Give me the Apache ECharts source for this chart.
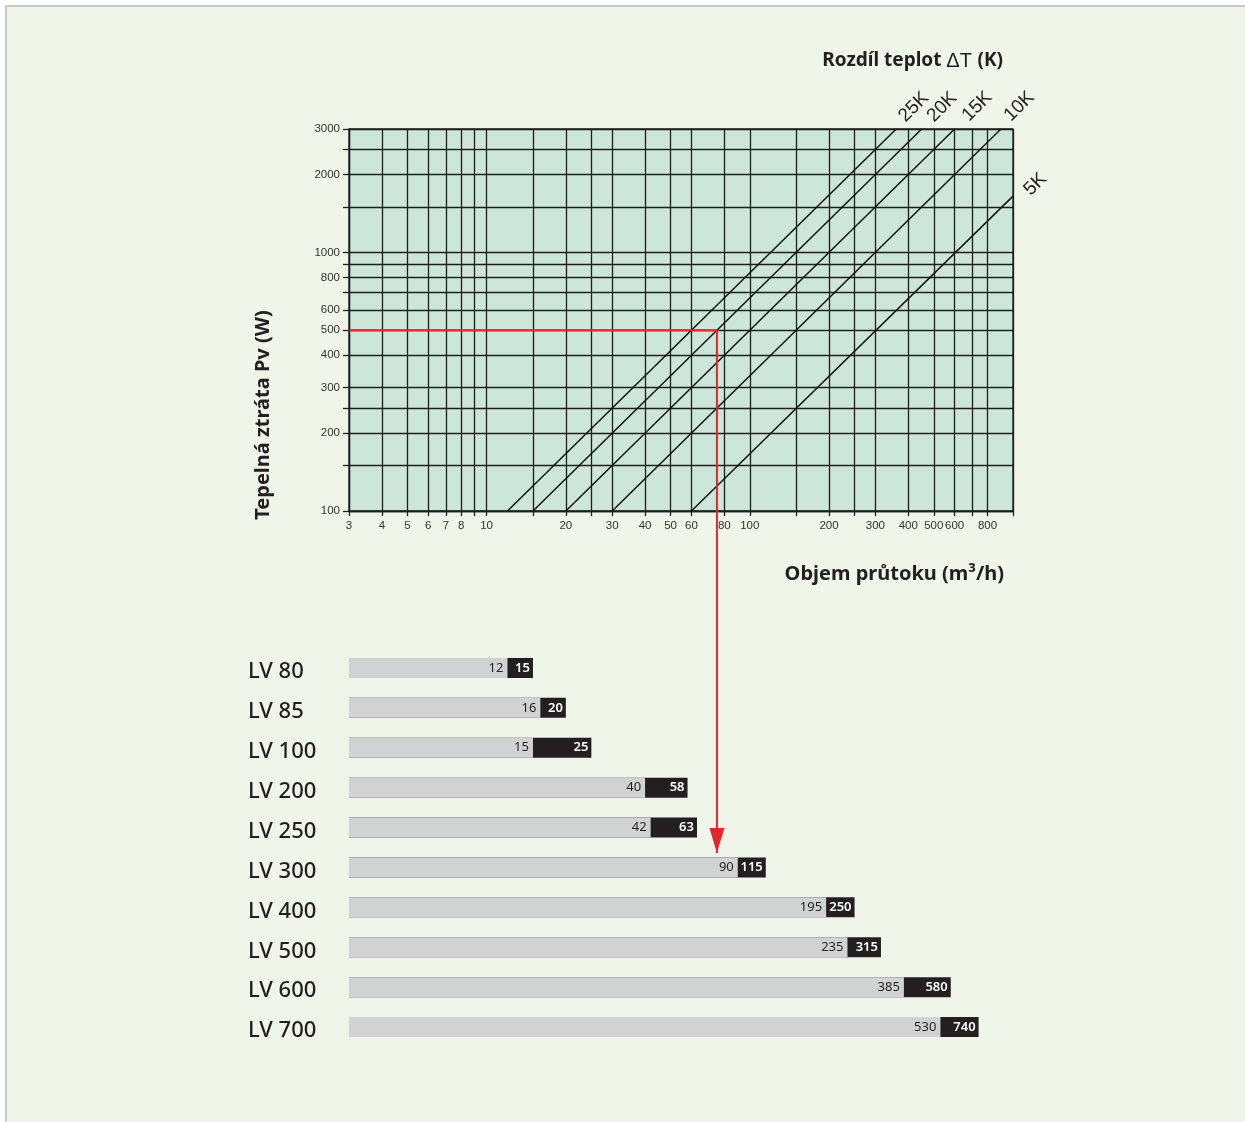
<!DOCTYPE html>
<html>
<head>
<meta charset="utf-8">
<script src="https://cdn.jsdelivr.net/npm/echarts@6/dist/echarts.min.js"></script>
<style>
html,body{margin:0;padding:0;background:#ffffff;}
#frame{position:absolute;left:5px;top:5px;width:1240px;height:1117px;border-top:2px solid #c9c9c9;border-left:2px solid #c9c9c9;background:#eff5e8;}
#chart{position:absolute;left:0;top:0;width:1245px;height:1122px;}
</style>
</head>
<body>
<div id="frame"></div>
<div id="chart"></div>
<script>
// ---- Top chart: heat loss vs. volume flow (log-log) ----
const flowGridValues = [3,4,5,6,7,8,9,10,15,20,25,30,40,50,60,80,100,150,200,250,300,400,500,600,700,800,1000];
const flowLabelValues = [3,4,5,6,7,8,10,20,30,40,50,60,80,100,200,300,400,500,600,800];
const powerGridValues = [100,150,200,250,300,400,500,600,700,800,900,1000,1500,2000,2500,3000];
const powerLabelValues = [100,200,300,400,500,600,800,1000,2000,3000];

// Temperature difference lines: [flow m3/h, heat loss W] end points
const dtNames = ['25K','20K','15K','10K','5K'];
const dt25 = [[12,100],[360,3000]];
const dt20 = [[15,100],[450,3000]];
const dt15 = [[20,100],[600,3000]];
const dt10 = [[30,100],[900,3000]];
const dt5  = [[60,100],[1000,1650]];

// Red example reading: 500 W -> 75 m3/h, continuing down to the LV 300 bar
const exampleLine = [[3,500],[75,500]];
const exampleArrowEnd = [75,4.76];

// ---- Bottom chart: device flow ranges (m3/h) ----
const devices = ['LV 80','LV 85','LV 100','LV 200','LV 250','LV 300','LV 400','LV 500','LV 600','LV 700'];
const flowMin = [12,16,15,40,42,90,195,235,385,530];
const flowMax = [15,20,25,58,63,115,250,315,580,740];

const dark = '#231f20';
const tickFont = 'Liberation Sans, Arial, sans-serif';
const mainFont = 'Noto Sans, Open Sans, sans-serif';

const dtSeries = [dt25, dt20, dt15, dt10, dt5];
const dtLabelOffsets = [[11,-3],[13,-1],[15,0],[12,-3],[12.5,7.5]];

function makeDtSeries(points, name, i) {
  const data = points.map((p, j) => {
    if (j === points.length - 1) {
      return {
        value: p,
        label: {
          show: true,
          formatter: name,
          position: 'right',
          distance: 0,
          rotate: 45,
          offset: dtLabelOffsets[i],
          fontFamily: tickFont,
          fontSize: 19,
          color: dark
        }
      };
    }
    return { value: p };
  });
  return {
    type: 'line',
    xAxisIndex: 0,
    yAxisIndex: 0,
    data: data,
    showSymbol: true,
    symbol: 'circle',
    symbolSize: 0,
    lineStyle: { color: '#111', width: 1.5 },
    itemStyle: { color: '#111' },
    silent: true,
    animation: false,
    z: 3
  };
}

const plain = v => String(v);

const chart = echarts.init(document.getElementById('chart'), null, { renderer: 'canvas' });

const option = {
  backgroundColor: 'transparent',
  animation: false,
  grid: [
    { left: 349, top: 129, width: 664, height: 382, show: true, backgroundColor: '#cce6d9', borderColor: '#1e1e1e', borderWidth: 1.3 },
    { left: 349, top: 648, width: 664, height: 399 }
  ],
  xAxis: [
    {
      type: 'log', logBase: 10, min: 3, max: 1000, gridIndex: 0,
      axisLine: { show: true, lineStyle: { color: '#1e1e1e', width: 1.3 } },
      axisTick: { show: true, customValues: flowGridValues, length: 5, lineStyle: { color: '#1e1e1e', width: 1.3 } },
      axisLabel: { customValues: flowLabelValues, formatter: plain, margin: 9, fontFamily: tickFont, fontSize: 11.5, color: '#333' },
      splitLine: { show: true, lineStyle: { color: '#1e1e1e', width: 1.3 } },
      minorSplitLine: { show: false }
    },
    {
      type: 'log', logBase: 10, min: 3, max: 1000, startValue: 3, gridIndex: 1, show: false,
      splitLine: { show: false }
    }
  ],
  yAxis: [
    {
      type: 'log', logBase: 10, min: 100, max: 3000, gridIndex: 0,
      axisLine: { show: true, lineStyle: { color: '#1e1e1e', width: 1.3 } },
      axisTick: { show: true, customValues: powerGridValues, length: 6, lineStyle: { color: '#1e1e1e', width: 1.3 } },
      axisLabel: { customValues: powerLabelValues, formatter: plain, margin: 9, fontFamily: tickFont, fontSize: 11.5, color: '#333' },
      splitLine: { show: true, lineStyle: { color: '#1e1e1e', width: 1.3 } }
    },
    {
      type: 'category', gridIndex: 1, data: devices, inverse: true,
      axisLine: { show: false }, axisTick: { show: false }, splitLine: { show: false },
      axisLabel: {
        align: 'left', margin: 101,
        formatter: v => '{a|' + v + '}',
        rich: { a: { fontFamily: mainFont, fontSize: 22, fontWeight: 500, color: dark, padding: [8, 0, 0, 0] } }
      }
    }
  ],
  series: [
    ...dtSeries.map((pts, i) => makeDtSeries(pts, dtNames[i], i)),
    {
      type: 'line',
      xAxisIndex: 0, yAxisIndex: 0,
      clip: false,
      data: [
        { value: exampleLine[0] },
        { value: exampleLine[1] },
        { value: exampleArrowEnd, symbol: 'triangle', symbolSize: [15, 25], symbolRotate: 180, symbolOffset: [0, -12.5] }
      ],
      symbol: 'none',
      showSymbol: true,
      lineStyle: { color: '#e4252a', width: 2 },
      itemStyle: { color: '#e4252a' },
      silent: true,
      z: 10
    },
    {
      type: 'bar',
      xAxisIndex: 1, yAxisIndex: 1,
      data: flowMax,
      barWidth: 20,
      itemStyle: { color: dark },
      label: { show: true, position: 'insideRight', distance: 3, color: '#ffffff', fontFamily: mainFont, fontSize: 13, fontWeight: 600 },
      silent: true,
      z: 2
    },
    {
      type: 'bar',
      xAxisIndex: 1, yAxisIndex: 1,
      data: flowMin,
      barWidth: 20,
      barGap: '-100%',
      itemStyle: { color: '#d1d2d4' },
      label: { show: true, position: 'insideRight', distance: 4, color: dark, fontFamily: mainFont, fontSize: 13 },
      silent: true,
      z: 3
    }
  ],
  graphic: [
    {
      type: 'text', x: 1003, y: 61,
      style: {
        text: '{b|Rozdíl teplot }{n|ΔT }{b|(K)}',
        align: 'right', verticalAlign: 'middle',
        rich: {
          b: { fontFamily: mainFont, fontSize: 19, fontWeight: 'bold', fill: dark },
          n: { fontFamily: tickFont, fontSize: 20, fontWeight: 'normal', fill: dark }
        }
      }
    },
    {
      type: 'text', x: 1004, y: 574,
      style: {
        text: '{b|Objem průtoku (m³/h)}',
        align: 'right', verticalAlign: 'middle',
        rich: { b: { fontFamily: mainFont, fontSize: 20, fontWeight: 'bold', fill: dark } }
      }
    },
    {
      type: 'text', x: 263, y: 415, rotation: Math.PI / 2,
      style: {
        text: 'Tepelná ztráta Pv (W)',
        align: 'center', verticalAlign: 'middle',
        fontFamily: mainFont, fontSize: 20, fontWeight: 'bold', fill: dark
      }
    }
  ]
};

chart.setOption(option);
</script>
</body>
</html>
